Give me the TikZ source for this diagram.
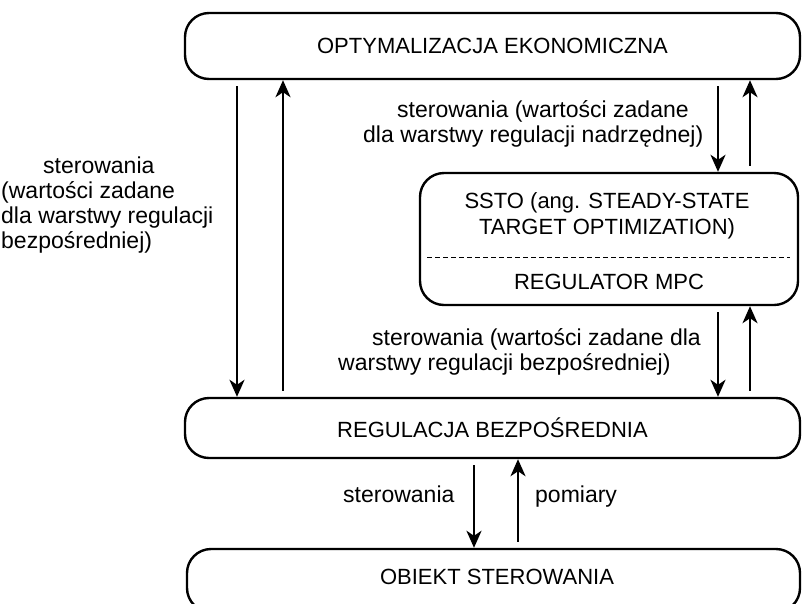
\documentclass[tikz,border=0pt]{standalone}
\usepackage{fontspec}
\setmainfont{Liberation Sans}
\usetikzlibrary{arrows.meta}

\tikzset{
  layer/.style={draw, line width=2.4pt, rounded corners=24pt, inner sep=0pt},
  boxtext/.style={font=\fontsize{22}{26}\selectfont, inner sep=0pt},
  label/.style={font=\fontsize{23}{25}\selectfont, inner sep=0pt, align=left, anchor=north west},
  flow/.style={line width=2.4pt, shorten <=6pt, -{Stealth[length=17pt, width=15pt, inset=5pt]}},
}

\begin{document}
\begin{tikzpicture}[x=1pt, y=-1pt]
  \clip (0,0) rectangle (805,603);

  % layers of the control hierarchy
  \node[layer, minimum width=615pt, minimum height=66pt] (opt) at (492.5,46) {};
  \node[boxtext] (opttxt) at (opt.center) {OPTYMALIZACJA EKONOMICZNA};

  \node[layer, minimum width=378pt, minimum height=132pt] (ssto) at (609,239) {};
  \node[boxtext, align=center] (sstotxt) at (607,216) {SSTO (ang. STEADY-STATE\\TARGET OPTIMIZATION)};
  \node[boxtext] (mpctxt) at (609,282) {REGULATOR MPC};
  \coordinate (dl) at (427,257);
  \coordinate (dr) at (790,257);
  \draw[line width=1pt, dash pattern=on 5pt off 3pt] (dl) -- (dr);

  \node[layer, minimum width=615pt, minimum height=60pt] (reg) at (492.5,428) {};
  \node[boxtext] (regtxt) at (reg.center) {REGULACJA BEZPOŚREDNIA};

  \node[layer, minimum width=613pt, minimum height=63pt] (obj) at (493.5,580.5) {};
  \node[boxtext] (objtxt) at (497,577) {OBIEKT STEROWANIA};

  % x positions of the vertical signal lines
  \coordinate (xa) at (237,0);
  \coordinate (xb) at (283,0);
  \coordinate (xc) at (718,0);
  \coordinate (xd) at (750,0);
  \coordinate (xe) at (474,0);
  \coordinate (xf) at (518,0);

  % signals between the layers
  \draw[flow] (opt.south -| xa) -- (reg.north -| xa);
  \draw[flow] (reg.north -| xb) -- (opt.south -| xb);
  \draw[flow] (opt.south -| xc) -- (ssto.north -| xc);
  \draw[flow] (ssto.north -| xd) -- (opt.south -| xd);
  \draw[flow] (ssto.south -| xc) -- (reg.north -| xc);
  \draw[flow] (reg.north -| xd) -- (ssto.south -| xd);
  \draw[flow] (reg.south -| xe) -- (obj.north -| xe);
  \draw[flow] (obj.north -| xf) -- (reg.south -| xf);

  % signal descriptions
  \node[label] (lleft) at (1,157) {\hspace*{42pt}sterowania\\(wartości zadane\\dla warstwy regulacji\\bezpośredniej)};
  \node[label] (ltop) at (363,100) {\hspace*{34pt}sterowania (wartości zadane\\dla warstwy regulacji nadrzędnej)};
  \node[label] (lmid) at (338,328) {\hspace*{34pt}sterowania (wartości zadane dla\\warstwy regulacji bezpośredniej)};
  \node[label] (lster) at (343,486) {sterowania};
  \node[label] (lpom) at (535,486) {pomiary};
\end{tikzpicture}
\end{document}
